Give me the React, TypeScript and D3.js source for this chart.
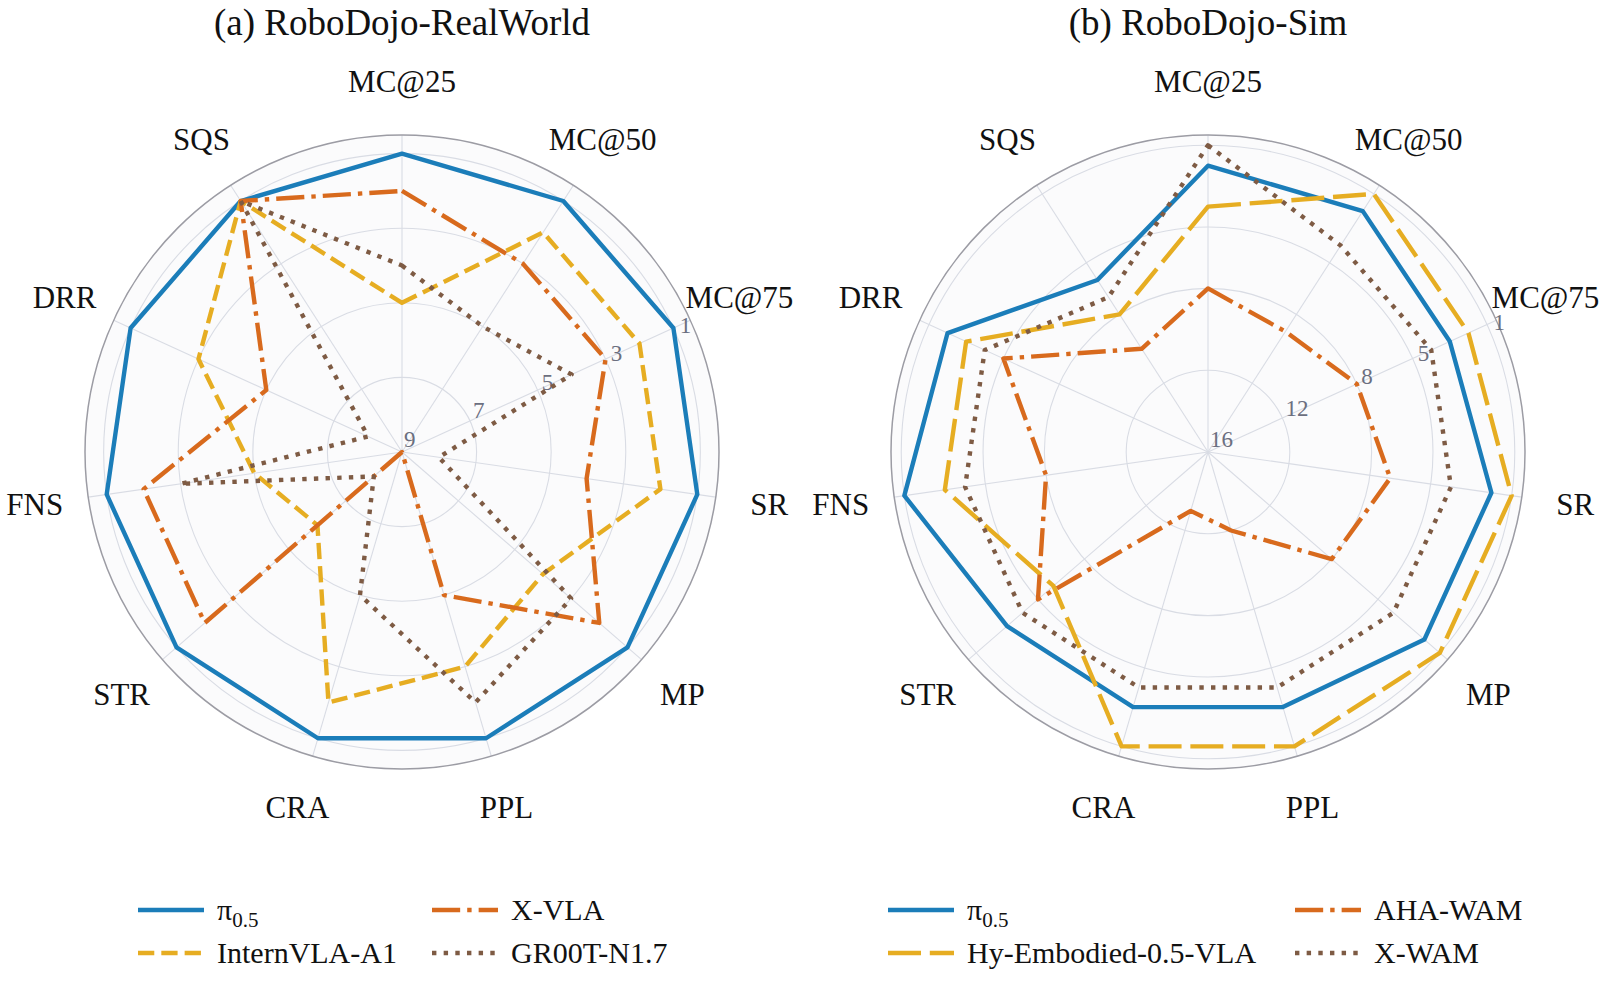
import React, { useEffect, useRef } from 'react';
import * as d3 from 'd3';

// axis order, clockwise from the top
const axes = ['MC@25', 'MC@50', 'MC@75', 'SR', 'MP', 'PPL', 'CRA', 'STR', 'FNS', 'DRR', 'SQS'];

// (a) RoboDojo-RealWorld ranks (1 = best)
const rwPi05 = [1, 1, 1, 1, 1, 1, 1, 1, 1, 1, 1];
const rwInternVLA = [5, 2, 2, 2, 4, 3, 2, 6, 5, 3, 1];
const rwXVLA = [2, 3, 3, 4, 2, 5, 9, 2, 2, 5, 1];
const rwGR00T = [4, 5, 4, 8, 3, 2, 5, 8, 3, 8, 1];
const rwTicks = [1, 3, 5, 7, 9];

// (b) RoboDojo-Sim ranks
const simPi05 = [2, 2, 3, 2, 2, 3, 3, 3, 1, 2, 6];
const simHyEmbodied = [4, 1, 2, 1, 1, 1, 1, 6, 3, 3, 8];
const simAHAWAM = [8, 9, 8, 7, 8, 12, 13, 5, 8, 5, 10];
const simXWAM = [1, 4, 4, 4, 4, 4, 4, 4, 4, 4, 7];
const simTicks = [1, 5, 8, 12, 16];

const BLUE = '#1b7db9';
const YELLOW = '#e6ad22';
const ORANGE = '#d86a1d';
const BROWN = '#7e5b44';

const LW = 4.4;
const DASH = `${3.7 * LW},${1.6 * LW}`;
const LONGDASH = `${7.5 * LW},${2 * LW}`;
const DASHDOT = `${6.4 * LW},${1.6 * LW},${LW},${1.6 * LW}`;
const DOT = `${LW},${1.65 * LW}`;

const FONT = '"Liberation Serif", "Times New Roman", serif';
const R = 317;

interface Series {
  name: string;
  values: number[];
  color: string;
  dash: string | null;
}

interface Panel {
  title: string;
  cx: number;
  cy: number;
  ticks: number[];
  series: Series[];
  legendX: [number, number];
}

const panels: Panel[] = [
  {
    title: '(a) RoboDojo-RealWorld',
    cx: 402,
    cy: 452,
    ticks: rwTicks,
    legendX: [138, 432],
    series: [
      { name: 'pi', values: rwPi05, color: BLUE, dash: null },
      { name: 'InternVLA-A1', values: rwInternVLA, color: YELLOW, dash: DASH },
      { name: 'X-VLA', values: rwXVLA, color: ORANGE, dash: DASHDOT },
      { name: 'GR00T-N1.7', values: rwGR00T, color: BROWN, dash: DOT },
    ],
  },
  {
    title: '(b) RoboDojo-Sim',
    cx: 1208,
    cy: 452,
    ticks: simTicks,
    legendX: [888, 1295],
    series: [
      { name: 'pi', values: simPi05, color: BLUE, dash: null },
      { name: 'Hy-Embodied-0.5-VLA', values: simHyEmbodied, color: YELLOW, dash: LONGDASH },
      { name: 'AHA-WAM', values: simAHAWAM, color: ORANGE, dash: DASHDOT },
      { name: 'X-WAM', values: simXWAM, color: BROWN, dash: DOT },
    ],
  },
];

const App: React.FC = () => {
  const svgRef = useRef<SVGSVGElement>(null);

  useEffect(() => {
    if (!svgRef.current) return;
    const svg = d3.select(svgRef.current);
    svg.selectAll('*').remove();

    const n = axes.length;
    const angle = d3.scaleLinear().domain([0, n]).range([0, 2 * Math.PI]);

    panels.forEach(p => {
      const maxRank = d3.max(p.ticks) as number;
      const r = d3.scaleLinear().domain([maxRank, 0.5]).range([0, R]);

      svg.append('text')
        .attr('x', p.cx)
        .attr('y', 35)
        .attr('text-anchor', 'middle')
        .attr('font-family', FONT)
        .attr('font-size', 37)
        .attr('fill', '#111')
        .text(p.title);

      const g = svg.append('g').attr('transform', `translate(${p.cx},${p.cy})`);

      // background + grid
      g.append('circle').attr('r', R).attr('fill', '#fbfbfc');

      g.selectAll('.grid')
        .data(p.ticks.filter(t => t !== maxRank))
        .enter()
        .append('circle')
        .attr('r', d => r(d))
        .attr('fill', 'none')
        .attr('stroke', '#d9dce4')
        .attr('stroke-width', 1.1);

      g.selectAll('.spoke')
        .data(axes)
        .enter()
        .append('line')
        .attr('x1', 0)
        .attr('y1', 0)
        .attr('x2', (d, i) => R * Math.sin(angle(i)))
        .attr('y2', (d, i) => -R * Math.cos(angle(i)))
        .attr('stroke', '#d9dce4')
        .attr('stroke-width', 1.1);

      g.append('circle')
        .attr('r', R)
        .attr('fill', 'none')
        .attr('stroke', '#9c9ca4')
        .attr('stroke-width', 1.5);

      // axis labels
      g.selectAll('.axlabel')
        .data(axes)
        .enter()
        .append('text')
        .attr('x', (d, i) => 371 * Math.sin(angle(i)))
        .attr('y', (d, i) => -371 * Math.cos(angle(i)))
        .attr('text-anchor', 'middle')
        .attr('dominant-baseline', 'central')
        .attr('font-family', FONT)
        .attr('font-size', 31)
        .attr('fill', '#111')
        .text(d => d);

      // radial tick labels
      const tickAng = (67.5 * Math.PI) / 180;
      g.selectAll('.tick')
        .data(p.ticks)
        .enter()
        .append('text')
        .attr('x', d => r(d) * Math.sin(tickAng) + 2)
        .attr('y', d => -r(d) * Math.cos(tickAng) - 5)
        .attr('font-family', FONT)
        .attr('font-size', 23)
        .attr('fill', '#6b6f80')
        .text(d => d);

      // series
      const line = d3.lineRadial<number>()
        .angle((d, i) => angle(i))
        .radius(d => r(d))
        .curve(d3.curveLinearClosed);

      p.series.forEach(s => {
        g.append('path')
          .attr('d', line(s.values))
          .attr('fill', 'none')
          .attr('stroke', s.color)
          .attr('stroke-width', LW)
          .attr('stroke-linejoin', 'round')
          .attr('stroke-dasharray', s.dash)
          .attr('stroke-linecap', 'butt');
      });

      // legend, two columns filled column-wise
      const rows = [910, 953];
      p.series.forEach((s, i) => {
        const col = Math.floor(i / 2);
        const row = i % 2;
        const x0 = p.legendX[col];
        const y = rows[row];
        svg.append('line')
          .attr('x1', x0)
          .attr('x2', x0 + 66)
          .attr('y1', y)
          .attr('y2', y)
          .attr('stroke', s.color)
          .attr('stroke-width', LW)
          .attr('stroke-dasharray', s.dash);
        const t = svg.append('text')
          .attr('x', x0 + 79)
          .attr('y', y + 10)
          .attr('font-family', FONT)
          .attr('font-size', 30)
          .attr('fill', '#111');
        if (s.name === 'pi') {
          t.append('tspan').text('π');
          t.append('tspan').attr('font-size', 21).attr('dy', 7).text('0.5');
        } else {
          t.text(s.name);
        }
      });
    });
  }, []);

  return (
    <svg
      ref={svgRef}
      width={1607}
      height={989}
      style={{ position: 'absolute', left: 0, top: 0, background: '#fff' }}
    />
  );
};

export default App;
